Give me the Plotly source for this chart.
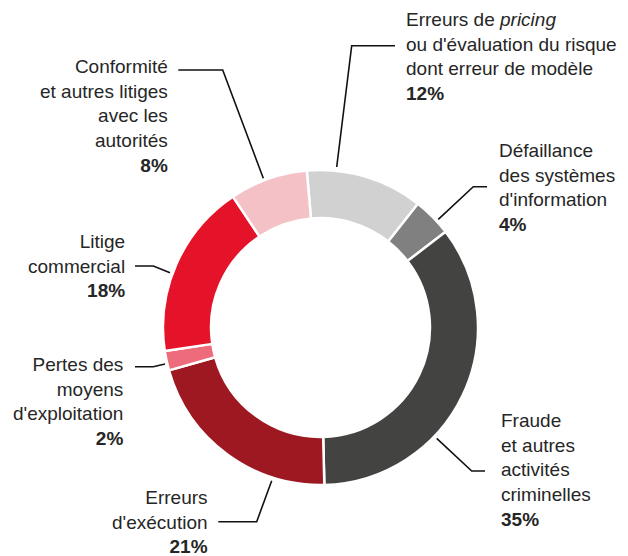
import plotly.graph_objects as go

# ---- data ----
labels = [
    "Erreurs de <i>pricing</i><br>ou d'évaluation du risque<br>dont erreur de modèle",
    "Défaillance<br>des systèmes<br>d'information",
    "Fraude<br>et autres<br>activités<br>criminelles",
    "Erreurs<br>d'exécution",
    "Pertes des<br>moyens<br>d'exploitation",
    "Litige<br>commercial",
    "Conformité<br>et autres litiges<br>avec les<br>autorités",
]
values = [12, 4, 35, 21, 2, 18, 8]
colors = ["#d0d1d0", "#808080", "#434341", "#9e1822", "#ee6b7b", "#e51329", "#f4c1c6"]

W, H = 628, 556

def px(x):
    return x / W

def py(y):
    return 1 - y / H

fig = go.Figure(go.Pie(
    labels=labels,
    values=values,
    sort=False,
    direction="clockwise",
    rotation=-5,
    hole=0.695,
    textinfo="none",
    hoverinfo="label+percent",
    marker=dict(colors=colors, line=dict(color="white", width=2.5)),
    domain=dict(x=[px(163), px(478)], y=[py(485), py(170)]),
    showlegend=False,
))

# label placement in screen pixels: (x, y_mid, xanchor)
label_pos = [
    (404, 56, "left"),
    (497, 187, "left"),
    (499, 470, "left"),
    (210, 522, "right"),
    (125, 401, "right"),
    (127, 266, "right"),
    (170, 116, "right"),
]
leaders = [
    [(336.7, 167), (351.7, 45.7), (395, 45.7)],
    [(438.3, 219.3), (473.3, 186.7), (487, 186.7)],
    [(436.7, 438.3), (471.7, 471), (485, 471)],
    [(271.7, 480.7), (256.7, 521.7), (218.3, 521.7)],
    [(165, 364), (153.3, 366.7), (135, 366.7)],
    [(170, 272.7), (153.3, 266), (135, 266)],
    [(263.3, 178.3), (222.7, 70), (178.3, 70)],
]

annotations = []
shapes = []
for lab, val, (x, y, xa), pts in zip(labels, values, label_pos, leaders):
    annotations.append(dict(
        text=f"{lab}<br><b>{val}%</b>",
        x=px(x), y=py(y), xref="paper", yref="paper",
        xanchor=xa, yanchor="middle", align=xa,
        showarrow=False,
        font=dict(family="Liberation Sans, Arial, sans-serif", size=19, color="#262626"),
    ))
    path = "M " + " L ".join(f"{px(a):.5f},{py(b):.5f}" for a, b in pts)
    shapes.append(dict(type="path", path=path, xref="paper", yref="paper",
                       line=dict(color="#111111", width=1.6)))

fig.update_layout(
    width=W, height=H,
    margin=dict(l=0, r=0, t=0, b=0),
    paper_bgcolor="white",
    plot_bgcolor="white",
    annotations=annotations,
    shapes=shapes,
)

fig.write_html(
    "out.html",
    config={"displayModeBar": False},
    post_script="document.body.style.margin='0';document.body.style.overflow='hidden';",
)
